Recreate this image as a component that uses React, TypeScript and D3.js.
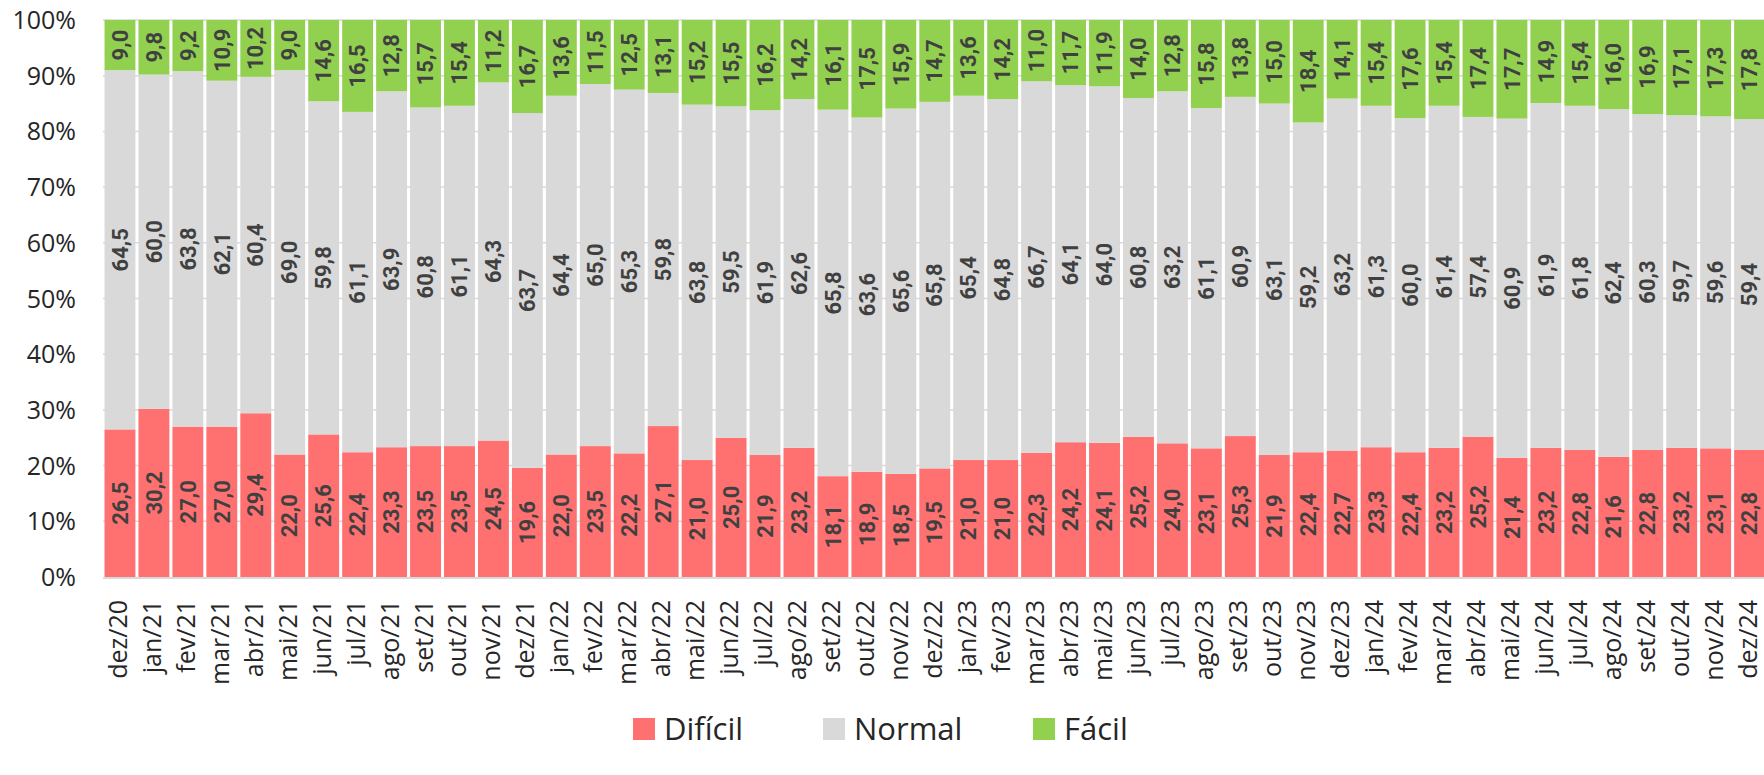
import { useEffect, useRef } from "react";
import * as d3 from "d3";

const months = [
  "dez/20",
  "jan/21", "fev/21", "mar/21", "abr/21", "mai/21", "jun/21", "jul/21", "ago/21", "set/21", "out/21", "nov/21", "dez/21",
  "jan/22", "fev/22", "mar/22", "abr/22", "mai/22", "jun/22", "jul/22", "ago/22", "set/22", "out/22", "nov/22", "dez/22",
  "jan/23", "fev/23", "mar/23", "abr/23", "mai/23", "jun/23", "jul/23", "ago/23", "set/23", "out/23", "nov/23", "dez/23",
  "jan/24", "fev/24", "mar/24", "abr/24", "mai/24", "jun/24", "jul/24", "ago/24", "set/24", "out/24", "nov/24", "dez/24",
];

const dificil = [
  26.5,
  30.2, 27.0, 27.0, 29.4, 22.0, 25.6, 22.4, 23.3, 23.5, 23.5, 24.5, 19.6,
  22.0, 23.5, 22.2, 27.1, 21.0, 25.0, 21.9, 23.2, 18.1, 18.9, 18.5, 19.5,
  21.0, 21.0, 22.3, 24.2, 24.1, 25.2, 24.0, 23.1, 25.3, 21.9, 22.4, 22.7,
  23.3, 22.4, 23.2, 25.2, 21.4, 23.2, 22.8, 21.6, 22.8, 23.2, 23.1, 22.8,
];

const normal = [
  64.5,
  60.0, 63.8, 62.1, 60.4, 69.0, 59.8, 61.1, 63.9, 60.8, 61.1, 64.3, 63.7,
  64.4, 65.0, 65.3, 59.8, 63.8, 59.5, 61.9, 62.6, 65.8, 63.6, 65.6, 65.8,
  65.4, 64.8, 66.7, 64.1, 64.0, 60.8, 63.2, 61.1, 60.9, 63.1, 59.2, 63.2,
  61.3, 60.0, 61.4, 57.4, 60.9, 61.9, 61.8, 62.4, 60.3, 59.7, 59.6, 59.4,
];

const facil = [
  9.0,
  9.8, 9.2, 10.9, 10.2, 9.0, 14.6, 16.5, 12.8, 15.7, 15.4, 11.2, 16.7,
  13.6, 11.5, 12.5, 13.1, 15.2, 15.5, 16.2, 14.2, 16.1, 17.5, 15.9, 14.7,
  13.6, 14.2, 11.0, 11.7, 11.9, 14.0, 12.8, 15.8, 13.8, 15.0, 18.4, 14.1,
  15.4, 17.6, 15.4, 17.4, 17.7, 14.9, 15.4, 16.0, 16.9, 17.1, 17.3, 17.8,
];

const yTicks = [0, 10, 20, 30, 40, 50, 60, 70, 80, 90, 100];

const seriesKeys = ["Difícil", "Normal", "Fácil"];
const seriesColors = ["#ff7070", "#d9d9d9", "#92d050"];

const App = () => {
  const ref = useRef<SVGSVGElement>(null);

  useEffect(() => {
    const svg = d3.select(ref.current);
    const width = 1764,
      height = 775;
    const margin = { top: 20, left: 103, bottom: 577 };

    svg.selectAll("*").remove();
    svg.attr("width", width).attr("height", height);

    const rows = months.map((m, i) => ({
      month: m,
      "Difícil": dificil[i],
      Normal: normal[i],
      "Fácil": facil[i],
    }));

    const x = d3
      .scaleBand<string>()
      .domain(months)
      .range([margin.left, margin.left + months.length * 33.95])
      .paddingInner(0.09)
      .paddingOuter(0.045);

    const y = d3.scaleLinear().domain([0, 100]).range([margin.bottom, margin.top]);

    // grid
    svg
      .append("g")
      .selectAll("line")
      .data(yTicks.filter((t) => t > 0))
      .enter()
      .append("line")
      .attr("x1", margin.left)
      .attr("x2", width)
      .attr("y1", (d) => y(d))
      .attr("y2", (d) => y(d))
      .attr("stroke", "#d9d9d9")
      .attr("stroke-width", 1.5);

    // y labels
    svg
      .append("g")
      .selectAll("text")
      .data(yTicks)
      .enter()
      .append("text")
      .attr("x", 76)
      .attr("y", (d) => y(d))
      .attr("dy", "0.36em")
      .attr("text-anchor", "end")
      .attr("fill", "#262626")
      .style("font-family", "'Open Sans', sans-serif")
      .style("font-size", "25px")
      .text((d) => `${d}%`);

    const stack = d3.stack<any>().keys(seriesKeys);
    const layers = stack(rows);

    layers.forEach((layer, li) => {
      const g = svg.append("g");
      g.selectAll("rect")
        .data(layer)
        .enter()
        .append("rect")
        .attr("x", (d) => x(d.data.month) ?? 0)
        .attr("width", x.bandwidth())
        .attr("y", (d) => y(d[1]))
        .attr("height", (d) => y(d[0]) - y(d[1]))
        .attr("fill", seriesColors[li]);
    });

    // axis line
    svg
      .append("line")
      .attr("x1", margin.left)
      .attr("x2", width)
      .attr("y1", y(0) + 1)
      .attr("y2", y(0) + 1)
      .attr("stroke", "#d9d9d9")
      .attr("stroke-width", 2);

    // value labels
    layers.forEach((layer) => {
      svg
        .append("g")
        .selectAll("text")
        .data(layer)
        .enter()
        .append("text")
        .attr("transform", (d) => {
          const cx = (x(d.data.month) ?? 0) + x.bandwidth() / 2;
          const cy = (y(d[0]) + y(d[1])) / 2;
          return `translate(${cx},${cy}) rotate(-90)`;
        })
        .attr("text-anchor", "middle")
        .attr("dy", "0.35em")
        .attr("fill", "#404040")
        .style("font-family", "Roboto, sans-serif")
        .style("font-weight", "bold")
        .style("font-size", "22px")
        .text((d) => (d[1] - d[0]).toFixed(1).replace(".", ","));
    });

    // x labels
    svg
      .append("g")
      .selectAll("text")
      .data(months)
      .enter()
      .append("text")
      .attr("transform", (d) => `translate(${(x(d) ?? 0) + x.bandwidth() / 2},600) rotate(-90)`)
      .attr("text-anchor", "end")
      .attr("dy", "0.28em")
      .attr("fill", "#262626")
      .style("font-family", "'Open Sans', sans-serif")
      .style("font-size", "25px")
      .text((d) => d);

    // legend
    const legendX = [633, 823, 1033];
    const legend = svg
      .append("g")
      .selectAll("g")
      .data(seriesKeys)
      .enter()
      .append("g")
      .attr("transform", (_, i) => `translate(${legendX[i]},729)`);
    legend
      .append("rect")
      .attr("x", 0)
      .attr("y", -11)
      .attr("width", 22)
      .attr("height", 22)
      .attr("fill", (_, i) => seriesColors[i]);
    legend
      .append("text")
      .attr("x", 31)
      .attr("y", 0)
      .attr("dy", "0.36em")
      .attr("fill", "#262626")
      .style("font-family", "'Open Sans', sans-serif")
      .style("font-size", "31px")
      .text((d) => d);
  }, []);

  return (
    <svg
      ref={ref}
      style={{ position: "absolute", left: 0, top: 0, display: "block" }}
    />
  );
};

export default App;
